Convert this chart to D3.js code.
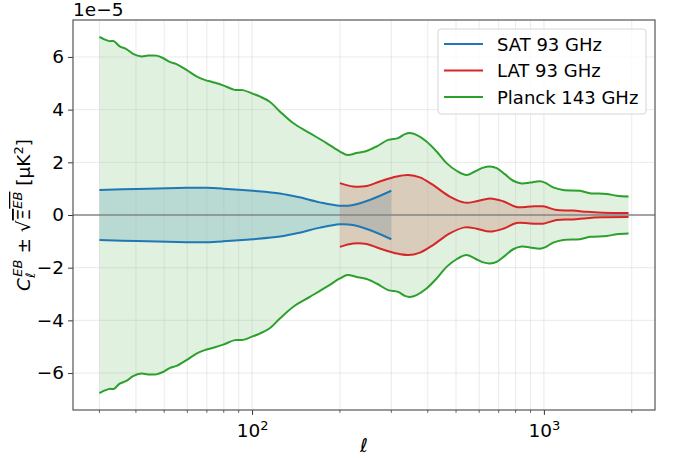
<!DOCTYPE html>
<html>
<head>
<meta charset="utf-8">
<script src="https://cdn.jsdelivr.net/npm/d3@7"></script>
<style>
  body { margin: 0; background: #fff; }
  text { font-family: "DejaVu Sans", sans-serif; }
</style>
</head>
<body>
<div id="vis"></div>
<script>
// values in units of 1e-5 uK^2 (offset text on the y axis)
// sigma bands are symmetric: C_l = 0 +/- sqrt(Xi)
var satEll = [30, 40.2, 59.6, 69.8, 79.6, 100.8, 124.5, 145.8, 170.7, 200, 222, 253, 300];
var satSig = [0.95, 0.99, 1.03, 1.03, 1.00, 0.92, 0.82, 0.67, 0.48, 0.35, 0.38, 0.57, 0.92];

var latEll = [200, 222, 247, 274, 313, 343, 376, 417, 476, 536, 588, 653, 725, 806, 896, 992,
  1105, 1257, 1403, 1593, 1950];
var latSig = [1.21, 1.08, 1.10, 1.27, 1.46, 1.52, 1.43, 1.14, 0.70, 0.47, 0.52, 0.63, 0.52, 0.30,
  0.32, 0.33, 0.19, 0.17, 0.12, 0.09, 0.08];

var planckEll = [30, 31.3, 32.5, 33.6, 35.2, 37.1, 39.1, 41.8, 44.0, 47.0, 49.5, 52.2, 55.1, 59.6,
  64.5, 68.8, 73.5, 79.6, 87.2, 93.1, 100.8, 106.3, 115, 124.5, 138.2, 157.7, 179.9, 200, 211.8,
  228, 247, 267, 292.6, 316.6, 334, 347, 366, 396, 429, 464, 502, 543, 580, 620, 653, 689, 735,
  785, 839, 896, 969, 1008, 1076, 1165, 1329, 1438, 1640, 1775, 1950];
var planckSig = [6.76, 6.66, 6.60, 6.60, 6.40, 6.30, 6.12, 6.02, 6.05, 6.05, 5.96, 5.81, 5.73, 5.51,
  5.26, 5.13, 5.04, 4.92, 4.75, 4.74, 4.60, 4.50, 4.30, 3.93, 3.49, 3.11, 2.73, 2.41, 2.28,
  2.35, 2.43, 2.60, 2.85, 2.92, 3.07, 3.11, 3.04, 2.79, 2.41, 1.97, 1.68, 1.52, 1.65, 1.80, 1.84,
  1.78, 1.55, 1.30, 1.20, 1.23, 1.28, 1.23, 1.05, 0.95, 0.92, 0.83, 0.80, 0.73, 0.70];

var seriesNames = ['SAT 93 GHz', 'LAT 93 GHz', 'Planck 143 GHz'];
var seriesColors = ['#1f77b4', '#d62728', '#2ca02c'];
var yTicks = [-6, -4, -2, 0, 2, 4, 6];
var xMajor = [100, 1000];

var width = 675, height = 460;
var margin = { top: 20, left: 73, bottom: 50, right: 20 };

var svg = d3.select('#vis').append('svg')
  .attr('width', width).attr('height', height);

// matplotlib-like 5% margins in log space
var lo = 30, hi = 1950;
var pad = 0.05 * Math.log10(hi / lo);
var x = d3.scaleLog()
  .domain([lo / Math.pow(10, pad), hi * Math.pow(10, pad)])
  .range([margin.left, width - margin.right]);
var yMax = 6.76 * 1.095;
var y = d3.scaleLinear()
  .domain([-yMax, yMax])
  .range([height - margin.bottom, margin.top]);

function rows(ell, sig) {
  return ell.map(function (d, i) { return { l: d, s: sig[i] }; });
}
var series = [rows(satEll, satSig), rows(latEll, latSig), rows(planckEll, planckSig)];

var curve = d3.curveCatmullRom.alpha(0.5);
var area = d3.area()
  .curve(curve)
  .x(function (d) { return x(d.l); })
  .y0(function (d) { return y(-d.s); })
  .y1(function (d) { return y(d.s); });
var upper = d3.line()
  .curve(curve)
  .x(function (d) { return x(d.l); })
  .y(function (d) { return y(d.s); });
var lower = d3.line()
  .curve(curve)
  .x(function (d) { return x(d.l); })
  .y(function (d) { return y(-d.s); });

// bands
var fillAlpha = [0.2, 0.2, 0.15];
series.forEach(function (s, i) {
  svg.append('path').datum(s)
    .attr('d', area)
    .attr('fill', seriesColors[i])
    .attr('fill-opacity', fillAlpha[i]);
});

// grid (above the fills like matplotlib)
var grid = svg.append('g').attr('class', 'grid');
var minorTicks = x.ticks().filter(function (t) { return t >= x.domain()[0] && t <= x.domain()[1]; });
grid.selectAll('.vg').data(minorTicks).enter().append('line')
  .attr('x1', function (d) { return x(d); }).attr('x2', function (d) { return x(d); })
  .attr('y1', margin.top).attr('y2', height - margin.bottom)
  .attr('stroke', '#b0b0b0').attr('stroke-opacity', 0.3).attr('stroke-width', 0.9);
grid.selectAll('.hg').data(yTicks).enter().append('line')
  .attr('x1', margin.left).attr('x2', width - margin.right)
  .attr('y1', function (d) { return y(d); }).attr('y2', function (d) { return y(d); })
  .attr('stroke', '#b0b0b0').attr('stroke-opacity', 0.3).attr('stroke-width', 0.9);

// lines
series.forEach(function (s, i) {
  [upper, lower].forEach(function (gen) {
    svg.append('path').datum(s)
      .attr('d', gen)
      .attr('fill', 'none')
      .attr('stroke', seriesColors[i])
      .attr('stroke-width', 2)
      .attr('stroke-linejoin', 'round');
  });
});

// zero line
svg.append('line')
  .attr('x1', margin.left).attr('x2', width - margin.right)
  .attr('y1', y(0)).attr('y2', y(0))
  .attr('stroke', '#808080').attr('stroke-opacity', 0.7).attr('stroke-width', 2);

// axes
var xAxis = d3.axisBottom(x)
  .tickValues(xMajor)
  .tickSize(4.9).tickPadding(4)
  .tickFormat(function () { return ''; });
var gx = svg.append('g')
  .attr('transform', 'translate(0,' + (height - margin.bottom) + ')')
  .call(xAxis);
gx.selectAll('.tick').append('text')
  .attr('y', 27).attr('text-anchor', 'middle')
  .attr('fill', '#000').style('font-size', '18.5px')
  .html(function (d) {
    return '10<tspan dy="-7" font-size="13px">' + Math.round(Math.log10(d)) + '</tspan>';
  });
// minor ticks
gx.selectAll('.minor').data(minorTicks.filter(function (t) { return xMajor.indexOf(t) < 0; }))
  .enter().append('line')
  .attr('x1', function (d) { return x(d); }).attr('x2', function (d) { return x(d); })
  .attr('y1', 0).attr('y2', 2.8).attr('stroke', '#333').attr('stroke-width', 0.8);

var yAxis = d3.axisLeft(y)
  .tickValues(yTicks).tickSize(4.9).tickPadding(4)
  .tickFormat(function (d) { return d < 0 ? '\u2212' + Math.abs(d) : d; });
var gy = svg.append('g')
  .attr('transform', 'translate(' + margin.left + ',0)')
  .call(yAxis);
gy.selectAll('text').style('font-size', '18.5px').attr('fill', '#000');

[gx, gy].forEach(function (g) {
  g.select('.domain').remove();
  g.selectAll('.tick line').attr('stroke', '#333').attr('stroke-width', 1);
});

// frame
svg.append('rect')
  .attr('x', margin.left).attr('y', margin.top)
  .attr('width', width - margin.left - margin.right)
  .attr('height', height - margin.top - margin.bottom)
  .attr('fill', 'none').attr('stroke', '#555').attr('stroke-width', 1.2);

// offset text
svg.append('text')
  .attr('x', margin.left).attr('y', 16)
  .style('font-size', '18.5px')
  .text('1e\u22125');

// x label
svg.append('text')
  .attr('x', (margin.left + width - margin.right) / 2).attr('y', 452)
  .attr('text-anchor', 'middle')
  .style('font-size', '19px').style('font-style', 'italic')
  .text('\u2113');

// y label
var yl = svg.append('text')
  .attr('transform', 'translate(30,' + y(0) + ') rotate(-90)')
  .attr('text-anchor', 'middle')
  .style('font-size', '18.5px');
yl.append('tspan').style('font-style', 'italic').text('C');
yl.append('tspan').attr('dy', 5).attr('font-size', '13px').style('font-style', 'italic').text('\u2113');
yl.append('tspan').attr('dy', -13).attr('dx', -4).attr('font-size', '13px').style('font-style', 'italic').text('EB');
yl.append('tspan').attr('dy', 8).text(' \u00B1 \u221A');
yl.append('tspan').style('text-decoration', 'overline').text('\u039E');
yl.append('tspan').attr('dy', -8).attr('font-size', '13px').style('font-style', 'italic')
  .style('text-decoration', 'overline').text('EB');
yl.append('tspan').attr('dy', 8).text(' [\u03BCK');
yl.append('tspan').attr('dy', -7).attr('font-size', '13px').text('2');
yl.append('tspan').attr('dy', 7).text(']');

// legend
var lg = svg.append('g').attr('transform', 'translate(438,29)');
lg.append('rect')
  .attr('width', 208).attr('height', 85).attr('rx', 3)
  .attr('fill', '#fff').attr('fill-opacity', 0.8)
  .attr('stroke', '#d6d6d6').attr('stroke-width', 1);
seriesNames.forEach(function (name, i) {
  var row = lg.append('g').attr('transform', 'translate(0,' + (15 + i * 26.5) + ')');
  row.append('line').attr('x1', 6).attr('x2', 45)
    .attr('stroke', seriesColors[i]).attr('stroke-width', 2);
  row.append('text').attr('x', 59).attr('y', 6.5)
    .style('font-size', '18px').text(name);
});
</script>
</body>
</html>
